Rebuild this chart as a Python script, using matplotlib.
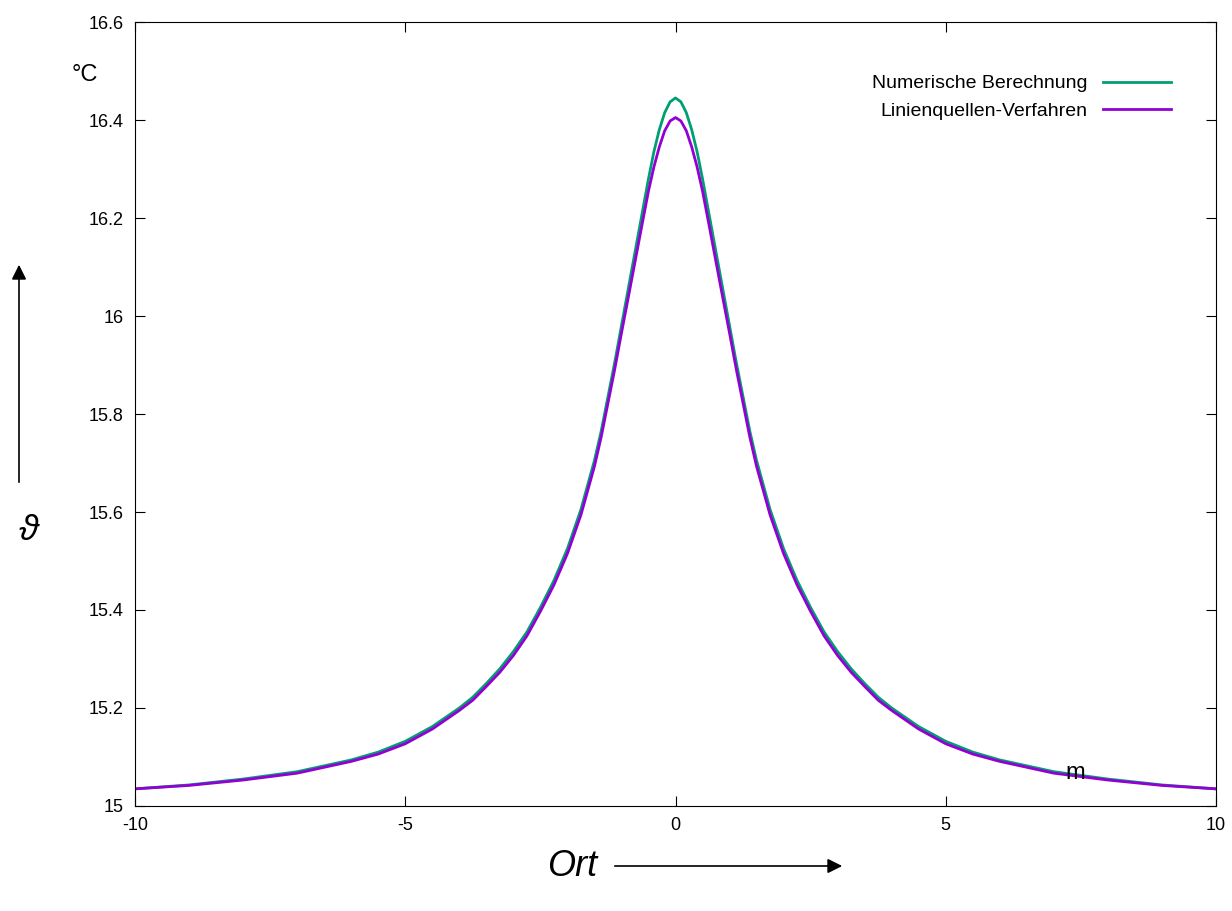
import numpy as np
import matplotlib.pyplot as plt

# ================== DATA ==================
x_half = [0, 0.1, 0.2, 0.3, 0.4, 0.5, 0.625, 0.75, 0.875, 1, 1.125, 1.25, 1.375, 1.5,
          1.75, 2, 2.25, 2.5, 2.75, 3, 3.25, 3.5, 3.75, 4, 4.5, 5, 5.5, 6, 7, 8, 9, 10]
num_half = [16.445, 16.437, 16.415, 16.38, 16.335, 16.28, 16.205, 16.13, 16.055, 15.98,
            15.905, 15.835, 15.765, 15.705, 15.605, 15.525, 15.46, 15.405, 15.355, 15.315,
            15.28, 15.25, 15.222, 15.20, 15.162, 15.132, 15.11, 15.094, 15.07, 15.055,
            15.043, 15.035]
lin_half = [16.405, 16.398, 16.378, 16.345, 16.304, 16.255, 16.183, 16.11, 16.037, 15.965,
            15.891, 15.822, 15.753, 15.693, 15.594, 15.515, 15.451, 15.397, 15.347, 15.307,
            15.273, 15.244, 15.216, 15.195, 15.157, 15.127, 15.106, 15.091, 15.067, 15.053,
            15.042, 15.035]

x = np.array([-v for v in x_half[:0:-1]] + x_half)
numerisch = np.array(num_half[:0:-1] + num_half)
linienquelle = np.array(lin_half[:0:-1] + lin_half)

# ================== PLOT ==================
plt.rcParams['font.family'] = ['Liberation Sans', 'DejaVu Sans']
plt.rcParams['axes.unicode_minus'] = False

fig = plt.figure(figsize=(12.32, 9.11), dpi=100)
ax = fig.add_axes([135 / 1232, 1 - 806 / 911, (1216 - 135) / 1232, (806 - 22) / 911])

ax.plot(x, numerisch, color="#009e73", lw=2, label="Numerische Berechnung")
ax.plot(x, linienquelle, color="#9400d3", lw=2, label="Linienquellen-Verfahren")

ax.set_xlim(-10, 10)
ax.set_ylim(15, 16.6)
ax.set_xticks([-10, -5, 0, 5, 10])
ax.set_yticks(np.arange(15, 16.61, 0.2))
ax.set_yticklabels(["15", "15.2", "15.4", "15.6", "15.8", "16", "16.2", "16.4", "16.6"])
ax.tick_params(direction="in", top=True, right=True, labelsize=13, length=7, pad=8)

leg = ax.legend(loc="upper right", frameon=False, fontsize=14, markerfirst=False,
                handlelength=3.5, bbox_to_anchor=(0.975, 0.955))

fig.text(85 / 1232, 1 - 75 / 911, "°C", fontsize=17, ha="center", va="center")
fig.text(1075 / 1232, 1 - 773 / 911, "m", fontsize=17, ha="center", va="center")
fig.text(28 / 1232, 1 - 530 / 911, "ϑ", fontsize=26, style="italic", ha="center", va="center")
fig.text(572 / 1232, 1 - 866 / 911, "Ort", fontsize=26, style="italic", ha="center", va="center")

fig.add_artist(plt.Annotation("", xy=(19 / 1232, 1 - 262 / 911), xytext=(19 / 1232, 1 - 485 / 911),
                              xycoords="figure fraction",
                              arrowprops=dict(arrowstyle="-|>", color="black", lw=1.2,
                                              mutation_scale=22)))
fig.add_artist(plt.Annotation("", xy=(845 / 1232, 1 - 866 / 911), xytext=(612 / 1232, 1 - 866 / 911),
                              xycoords="figure fraction",
                              arrowprops=dict(arrowstyle="-|>", color="black", lw=1.2,
                                              mutation_scale=22)))

fig.savefig("out.png", dpi=100)
